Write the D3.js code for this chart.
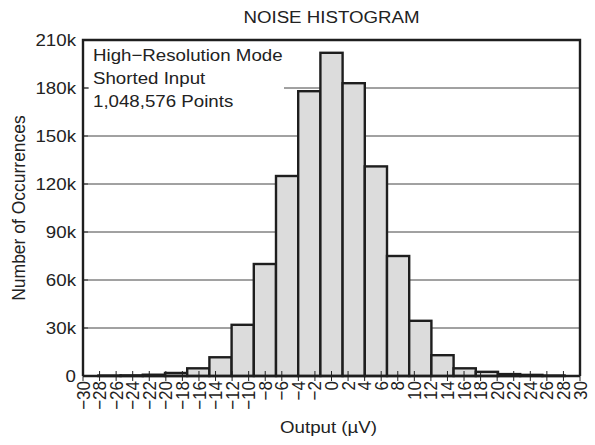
<!DOCTYPE html>
<html><head><meta charset="utf-8">
<script src="https://cdn.jsdelivr.net/npm/d3@7"></script>
<style>body{margin:0;background:#fff}svg{display:block;font-family:"Liberation Sans",Arial,sans-serif}</style>
</head><body><svg id="c" width="595" height="445"></svg>
<script>
const title = "NOISE HISTOGRAM";
const xTitle = "Output (\u00B5V)";
const yTitle = "Number of Occurrences";
const notes = ["High\u2212Resolution Mode", "Shorted Input", "1,048,576 Points"];
const binWidth = 2.68;
const binCenters = [-26.8,-24.12,-21.44,-18.76,-16.08,-13.4,-10.72,-8.04,-5.36,-2.68,0,2.68,5.36,8.04,10.72,13.4,16.08,18.76,21.44,24.12,26.8];
const counts = [300,400,800,1900,4800,11700,32000,70000,125000,178000,202000,183000,131000,75000,34500,13000,4800,2600,1200,700,300];
const xTicks = d3.range(-30, 31, 2);
const yTicks = [0,30000,60000,90000,120000,150000,180000,210000];
const yTickLabels = ["0","30k","60k","90k","120k","150k","180k","210k"];

const svg = d3.select("#c");
const L = 83, R = 580, T = 40, B = 376;
const SX = 1.1, FS = 17;
const x = d3.scaleLinear().domain([-30, 30]).range([L, R]);
const y = d3.scaleLinear().domain([0, 210000]).range([B, T]);

// gridlines
svg.append("g").selectAll("line").data(yTicks.slice(1, -1)).join("line")
  .attr("x1", L).attr("x2", R).attr("y1", d => y(d)).attr("y2", d => y(d))
  .attr("stroke", "#444").attr("stroke-width", 1);

// annotation box (white) covering gridlines
svg.append("rect").attr("x", L + 6).attr("y", T + 2).attr("width", 284 - L - 6).attr("height", 66).attr("fill", "#fff");
// y ticks inward
svg.append("g").selectAll("line").data(yTicks).join("line")
  .attr("x1", L).attr("x2", L + 5).attr("y1", d => y(d)).attr("y2", d => y(d))
  .attr("stroke", "#333").attr("stroke-width", 1);

// bars
svg.append("g").selectAll("rect").data(binCenters).join("rect")
  .attr("x", d => x(d - binWidth / 2))
  .attr("width", d => x(d + binWidth / 2) - x(d - binWidth / 2))
  .attr("y", (d, i) => y(counts[i]))
  .attr("height", (d, i) => y(0) - y(counts[i]))
  .attr("fill", "#dcdcdc").attr("stroke", "#1e1e1e").attr("stroke-width", 2.4);

// x axis ticks
svg.append("g").selectAll("line").data(xTicks).join("line")
  .attr("x1", d => x(d)).attr("x2", d => x(d)).attr("y1", B - 5).attr("y2", B + 5)
  .attr("stroke", "#222").attr("stroke-width", 1);

// frame
svg.append("path").attr("d", `M${L},${B}V${T}H${R}V${B}`).attr("fill", "none").attr("stroke", "#1e1e1e").attr("stroke-width", 2.4);
svg.append("line").attr("x1", L).attr("x2", R).attr("y1", B).attr("y2", B).attr("stroke", "#1e1e1e").attr("stroke-width", 2.4);

// x tick labels rotated
svg.append("g").selectAll("text").data(xTicks).join("text")
  .attr("transform", d => `translate(${x(d)},${B + 5}) scale(${SX},1) rotate(-90)`)
  .attr("text-anchor", "end").attr("dy", "0.35em")
  .attr("font-size", FS).attr("fill", "#222")
  .text(d => d < 0 ? "\u2212" + Math.abs(d) : String(d));

// y labels
svg.append("g").selectAll("text").data(yTicks).join("text")
  .attr("transform", d => `translate(${L - 7},${y(d)}) scale(${SX},1)`)
  .attr("dy", "0.35em")
  .attr("text-anchor", "end").attr("font-size", FS).attr("fill", "#222")
  .text((d, i) => yTickLabels[i]);

// notes
svg.append("g").selectAll("text").data(notes).join("text")
  .attr("transform", (d, i) => `translate(${L + 10},${61 + i * 23}) scale(${SX},1)`)
  .attr("font-size", FS).attr("fill", "#222").text(d => d);

// titles
svg.append("text").attr("transform", `translate(${(L + R) / 2},23) scale(${SX},1)`).attr("text-anchor", "middle")
  .attr("font-size", FS).attr("fill", "#222").text(title);
svg.append("text").attr("transform", `translate(${(L + R) / 2 - 3},433) scale(${SX},1)`).attr("text-anchor", "middle")
  .attr("font-size", FS).attr("fill", "#222").text(xTitle);
svg.append("text").attr("transform", `translate(25,${(T + B) / 2}) scale(${SX},1) rotate(-90)`).attr("text-anchor", "middle")
  .attr("font-size", 17.5).attr("fill", "#222").text(yTitle);
</script></body></html>
